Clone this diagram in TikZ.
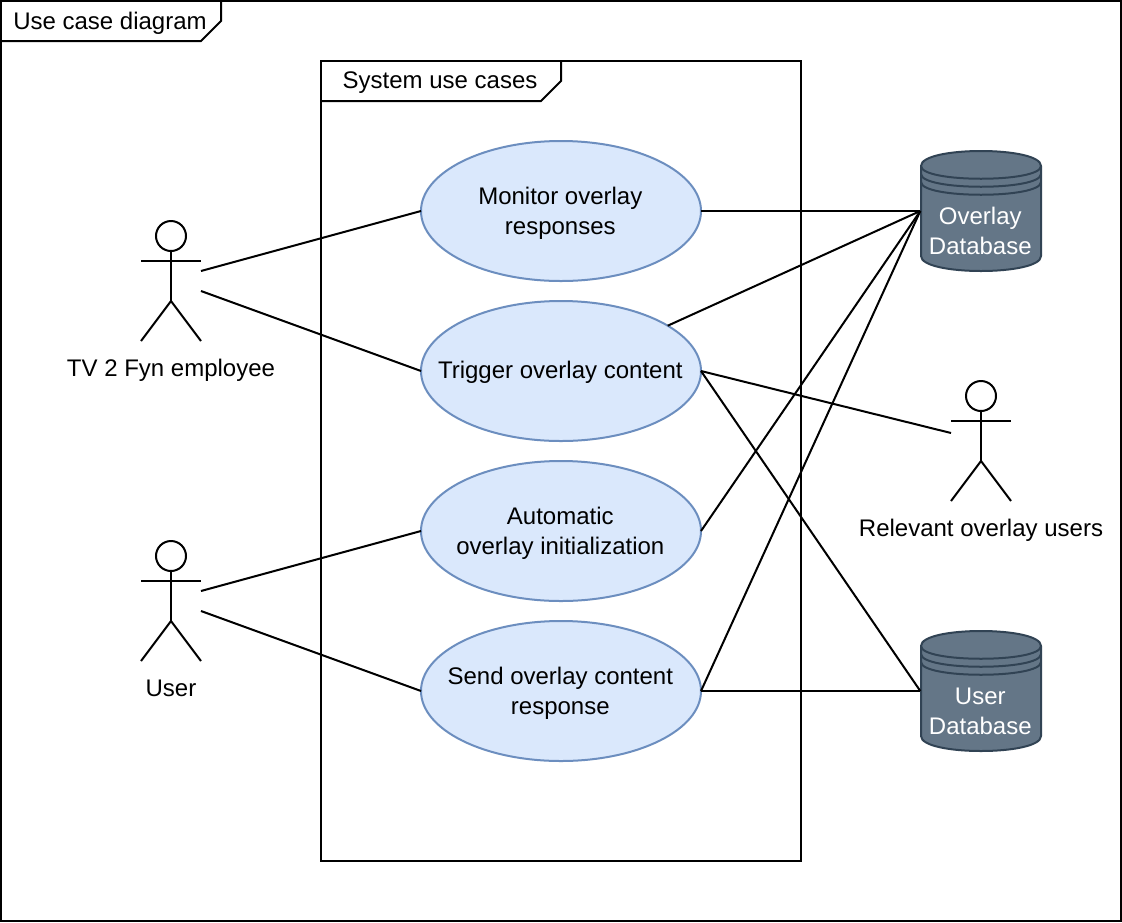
\documentclass[tikz,border=0pt]{standalone}
\usepackage{fontspec}
\setmainfont{Liberation Sans}
\usetikzlibrary{shapes.geometric}
\definecolor{ucfill}{HTML}{DAE8FC}
\definecolor{ucline}{HTML}{6C8EBF}
\definecolor{dbfill}{HTML}{647687}
\definecolor{dbline}{HTML}{314354}
\tikzset{
  lbl/.style={font=\fontsize{24}{30}\selectfont, align=center, inner sep=0pt, outer sep=0pt, text=black},
  uctext/.style={lbl, xshift=-0.7pt, yshift=-2pt},
  usecase/.style={shape=ellipse, draw=ucline, fill=ucfill, line width=2pt, minimum width=280pt, minimum height=140pt, inner sep=0pt, outer sep=0pt},
  actorbox/.style={shape=rectangle, minimum width=60pt, minimum height=120pt, inner sep=0pt, outer sep=0pt},
  dbbox/.style={lbl, shape=rectangle, minimum width=120pt, minimum height=120pt, text=white},
  ink/.style={line width=2pt, draw=black},
  dbink/.style={line width=2pt, draw=dbline, fill=dbfill},
  dbarc/.style={line width=2pt, draw=dbline},
  link/.style={line width=2pt, draw=black}
}
\newcommand{\drawactor}[1]{%
  \begin{scope}[shift={(#1)}]
    \draw[ink] (0,-45) circle[radius=15pt];
    \draw[ink] (0,-30) -- (0,20);
    \draw[ink] (-30,-20) -- (30,-20);
    \draw[ink] (-30,60) -- (0,20) -- (30,60);
  \end{scope}}
\newcommand{\drawdb}[1]{%
  \begin{scope}[shift={(#1)}]
    \draw[dbink] (-60,-45) .. controls (-60,-65) and (60,-65) .. (60,-45) -- (60,45) .. controls (60,65) and (-60,65) .. (-60,45) -- cycle;
    \draw[dbarc] (-60,-45) .. controls (-60,-28) and (60,-28) .. (60,-45);
    \draw[dbarc] (-60,-37) .. controls (-60,-20) and (60,-20) .. (60,-37);
    \draw[dbarc] (-60,-29) .. controls (-60,-12) and (60,-12) .. (60,-29);
  \end{scope}}
\begin{document}
\begin{tikzpicture}[x=1pt,y=-1pt]
\useasboundingbox (0,0) rectangle (1122,922);
\fill[white] (0,0) rectangle (1122,922);
% frames
\draw[ink] (1,1) rectangle (1121,921);
\draw[ink] (1,41) -- (201,41) -- (221,21) -- (221,1);
\node[lbl] (outerlabel) at (110,23) {Use case diagram};
\draw[ink] (321,61) rectangle (801,861);
\draw[ink] (321,101) -- (541,101) -- (561,81) -- (561,61);
\node[lbl] (innerlabel) at (440,83) {System use cases};
% use cases
\node[usecase, label={[uctext]center:{Monitor overlay\\responses}}] (uc1) at (561,211) {};
\node[usecase, label={[uctext, yshift=1pt]center:{Trigger overlay content}}] (uc2) at (561,371) {};
\node[usecase, label={[uctext]center:{Automatic\\overlay initialization}}] (uc3) at (561,531) {};
\node[usecase, label={[uctext]center:{Send overlay content\\response}}] (uc4) at (561,691) {};
% actors
\drawactor{171,281}
\node[actorbox] (employee) at (171,281) {};
\node[lbl] (employeelabel) at (171,370) {TV 2 Fyn employee};
\drawactor{171,601}
\node[actorbox] (user) at (171,601) {};
\node[lbl] (userlabel) at (171,688) {User};
\drawactor{981,441}
\node[actorbox] (relevant) at (981,441) {};
\node[lbl] (relevantlabel) at (981,530) {Relevant overlay users};
% databases
\drawdb{981,211}
\node[dbbox] (overlaydb) at (980.3,211) {\rule{0pt}{58pt}Overlay\\Database};
\drawdb{981,691}
\node[dbbox] (userdb) at (980.3,691) {\rule{0pt}{58pt}User\\Database};
% connectors
\draw[link] ([yshift=10pt]employee.east) -- (uc1.west);
\draw[link] ([yshift=-10pt]employee.east) -- (uc2.west);
\draw[link] ([yshift=10pt]user.east) -- (uc3.west);
\draw[link] ([yshift=-10pt]user.east) -- (uc4.west);
\draw[link] (uc1.east) -- (overlaydb.west);
\draw[link] (uc2.23.9) -- (overlaydb.west);
\draw[link] (uc3.east) -- (overlaydb.west);
\draw[link] (uc4.east) -- (overlaydb.west);
\draw[link] (uc2.east) -- ([yshift=8pt]relevant.west);
\draw[link] (uc2.east) -- (userdb.west);
\draw[link] (uc4.east) -- (userdb.west);
\end{tikzpicture}
\end{document}
